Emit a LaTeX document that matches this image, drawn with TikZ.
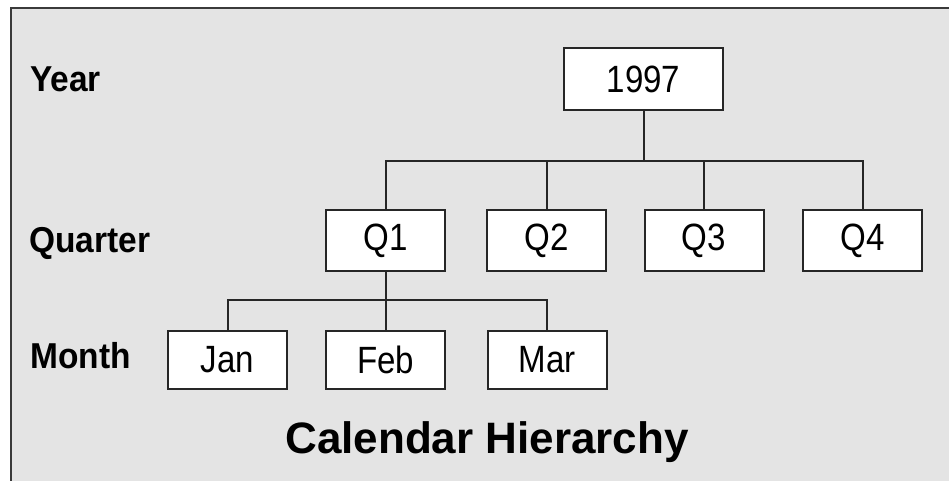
\documentclass[tikz,border=0pt]{standalone}
\usepackage{fontspec}
\setmainfont{Liberation Sans}
\newfontfamily\boxfont[FakeStretch=0.87]{Liberation Sans}
\newfontfamily\lblfont[FakeStretch=0.93]{Liberation Sans Bold}
\definecolor{panel}{HTML}{E4E4E4}
\definecolor{ink}{HTML}{262626}
\definecolor{framecol}{HTML}{3A3A3A}
\begin{document}
\begin{tikzpicture}[x=1pt,y=-1pt,
  levelbox/.style={draw=ink, line width=2pt, fill=white, inner sep=0pt,
    minimum width=119pt, minimum height=61pt,
    font=\boxfont\fontsize{38}{42}\selectfont},
  monthbox/.style={levelbox, minimum height=58pt},
  levellabel/.style={anchor=base west, inner sep=0pt,
    font=\lblfont\fontsize{36}{40}\selectfont},
  link/.style={draw=ink, line width=2pt}]
  \useasboundingbox (0,0) rectangle (949,480);
  \clip (0,0) rectangle (949,480);
  % panel
  \draw[draw=framecol, fill=panel, line width=2.4pt] (11,8) rectangle (970,500);

  % level labels
  \node[levellabel] (lyear) at (30,91) {Year};
  \node[levellabel] (lquarter) at (29,252) {Quarter};
  \node[levellabel] (lmonth) at (30,368) {Month};

  % hierarchy boxes
  \node[levelbox, minimum width=159pt, minimum height=62pt] (yr) at (643.5,79) {1997};
  \node[levelbox] (q1) at (385.5,240.5) {Q1};
  \node[levelbox] (q2) at (546.5,240.5) {Q2};
  \node[levelbox] (q3) at (704,240.5) {Q3};
  \node[levelbox] (q4) at (862.5,240.5) {Q4};
  \node[monthbox] (jan) at (227.5,360) {Jan};
  \node[monthbox] (feb) at (385.5,360) {Feb};
  \node[monthbox] (mar) at (547,360) {Mar};

  % connector buses
  \coordinate (qbar) at (0,161);
  \coordinate (mbar) at (0,300);
  \draw[link] (yr.south) -- (yr.south |- qbar);
  \draw[link] (q1.north) -- (q1.north |- qbar) -- (q4.north |- qbar) -- (q4.north);
  \draw[link] (q2.north) -- (q2.north |- qbar);
  \draw[link] (q3.north) -- (q3.north |- qbar);
  \draw[link] (q1.south) -- (feb.north);
  \draw[link] (jan.north) -- (jan.north |- mbar) -- (mar.north |- mbar) -- (mar.north);

  % caption
  \node[anchor=base, inner sep=0pt, font=\bfseries\fontsize{44}{48}\selectfont] (title) at (487,453) {Calendar Hierarchy};
\end{tikzpicture}
\end{document}
